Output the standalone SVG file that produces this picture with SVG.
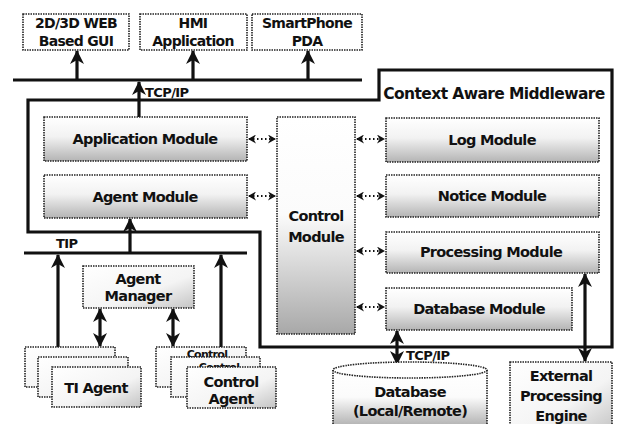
<svg xmlns="http://www.w3.org/2000/svg" width="617" height="424" viewBox="0 0 617 424">
<style>
.t{font-family:"DejaVu Sans","Liberation Sans",sans-serif;font-weight:bold;fill:#111;text-anchor:middle;letter-spacing:-0.7px}
.m{font-size:14.5px}
.s{font-size:14px}
.l{font-size:13px;text-anchor:start;letter-spacing:-0.6px}
.h{font-size:11px}
.box{stroke:#222;stroke-width:1.6;stroke-dasharray:1.5 1}
.thick{stroke:#111;stroke-width:3.2;fill:none}
.dot{stroke:#111;stroke-width:2;stroke-dasharray:1.5 2.5;fill:none}
</style>
<defs>
<linearGradient id="g" x1="0" y1="0" x2="0" y2="1">
<stop offset="0" stop-color="#ffffff"/>
<stop offset="0.45" stop-color="#f2f2f2"/>
<stop offset="1" stop-color="#b4b4b4"/>
</linearGradient>
<linearGradient id="gc" x1="0" y1="0" x2="0" y2="1">
<stop offset="0" stop-color="#ffffff"/>
<stop offset="0.45" stop-color="#fbfbfb"/>
<stop offset="1" stop-color="#a8a8a8"/>
</linearGradient>
<linearGradient id="gl" x1="0" y1="0" x2="1" y2="1">
<stop offset="0" stop-color="#ffffff"/>
<stop offset="0.6" stop-color="#f4f4f4"/>
<stop offset="1" stop-color="#c4c4c4"/>
</linearGradient>
<clipPath id="c1"><rect x="156" y="347" width="90" height="10"/></clipPath>
<clipPath id="c2"><rect x="171" y="357" width="89" height="10"/></clipPath>
<marker id="ah" markerUnits="userSpaceOnUse" markerWidth="14" markerHeight="14" viewBox="0 0 14 14" refX="13" refY="7" orient="auto-start-reverse">
<path d="M0,0 L14,7 L0,14 L4,7 Z" fill="#111"/>
</marker>
<marker id="sh" markerUnits="userSpaceOnUse" markerWidth="8" markerHeight="9" viewBox="0 0 8 9" refX="7" refY="4.5" orient="auto-start-reverse">
<path d="M0,0 L8,4.5 L0,9 L2.5,4.5 Z" fill="#111"/>
</marker>
</defs>
<rect width="617" height="424" fill="#fff"/>

<g id="connectors">
<line class="thick" x1="13" y1="80" x2="362" y2="80" stroke-width="4"/>
<line class="thick" x1="77" y1="80" x2="77" y2="51" marker-end="url(#ah)"/>
<line class="thick" x1="193" y1="80" x2="193" y2="51" marker-end="url(#ah)"/>
<line class="thick" x1="308" y1="80" x2="308" y2="51" marker-end="url(#ah)"/>
<line class="thick" x1="139" y1="117" x2="139" y2="82" marker-end="url(#ah)"/>
<text class="t l" x="145" y="97">TCP/IP</text>
<line class="thick" x1="24" y1="253" x2="247" y2="253" stroke-width="4"/>
<text class="t l" x="56" y="248">TIP</text>
<line class="thick" x1="130" y1="253" x2="130" y2="219" marker-end="url(#ah)"/>
<line class="thick" x1="58" y1="347" x2="58" y2="255" marker-end="url(#ah)"/>
<line class="thick" x1="221" y1="347" x2="221" y2="255" marker-end="url(#ah)"/>
<line class="thick" x1="100" y1="309" x2="100" y2="346" marker-start="url(#ah)" marker-end="url(#ah)"/>
<line class="thick" x1="173" y1="309" x2="173" y2="346" marker-start="url(#ah)" marker-end="url(#ah)"/>
<line class="thick" x1="397" y1="331" x2="397" y2="364" marker-start="url(#ah)" marker-end="url(#ah)"/>
<text class="t l" x="406" y="360">TCP/IP</text>
<line class="thick" x1="585" y1="274" x2="585" y2="361" marker-start="url(#ah)" marker-end="url(#ah)"/>
<line class="dot" x1="249" y1="139" x2="275" y2="139" marker-start="url(#sh)" marker-end="url(#sh)"/>
<line class="dot" x1="249" y1="196" x2="275" y2="196" marker-start="url(#sh)" marker-end="url(#sh)"/>
<line class="dot" x1="357" y1="139" x2="384" y2="139" marker-start="url(#sh)" marker-end="url(#sh)"/>
<line class="dot" x1="357" y1="196" x2="384" y2="196" marker-start="url(#sh)" marker-end="url(#sh)"/>
<line class="dot" x1="357" y1="251" x2="384" y2="251" marker-start="url(#sh)" marker-end="url(#sh)"/>
<line class="dot" x1="357" y1="307" x2="384" y2="307" marker-start="url(#sh)" marker-end="url(#sh)"/>
</g>

<g id="middleware">
<path class="thick" d="M28,100 L379,100 L379,70 L612,70 L612,347 L260,347 L260,232 L28,232 Z"/>
<text class="t" x="494" y="99" font-size="15.5" style="letter-spacing:-0.6px">Context Aware Middleware</text>
</g>

<g id="web-gui">
<rect class="box" x="23" y="14" width="106" height="36" fill="#fff"/>
<text class="t s" x="76" y="28">2D/3D WEB</text>
<text class="t s" x="76" y="46">Based GUI</text>
</g>
<g id="hmi">
<rect class="box" x="140" y="14" width="107" height="36" fill="#fff"/>
<text class="t s" x="193" y="28">HMI</text>
<text class="t s" x="193" y="46">Application</text>
</g>
<g id="smartphone">
<rect class="box" x="252" y="14" width="110" height="36" fill="#fff"/>
<text class="t s" x="307" y="28">SmartPhone</text>
<text class="t s" x="307" y="46">PDA</text>
</g>

<g id="application-module">
<rect class="box" x="44" y="117" width="203" height="44" fill="url(#g)"/>
<text class="t m" x="145" y="144">Application Module</text>
</g>
<g id="agent-module">
<rect class="box" x="44" y="175" width="203" height="43" fill="url(#g)"/>
<text class="t m" x="145" y="202">Agent Module</text>
</g>
<g id="control-module">
<rect class="box" x="277" y="117" width="78" height="217" fill="url(#gc)"/>
<text class="t m" x="316" y="221">Control</text>
<text class="t m" x="316" y="242">Module</text>
</g>
<g id="log-module">
<rect class="box" x="386" y="118" width="213" height="44" fill="url(#g)"/>
<text class="t m" x="492" y="145">Log Module</text>
</g>
<g id="notice-module">
<rect class="box" x="386" y="175" width="213" height="42" fill="url(#g)"/>
<text class="t m" x="492" y="201">Notice Module</text>
</g>
<g id="processing-module">
<rect class="box" x="386" y="232" width="213" height="41" fill="url(#g)"/>
<text class="t m" x="491" y="257">Processing Module</text>
</g>
<g id="database-module">
<rect class="box" x="386" y="288" width="186" height="42" fill="url(#g)"/>
<text class="t m" x="479" y="314">Database Module</text>
</g>

<g id="agent-manager">
<rect class="box" x="83" y="266" width="111" height="42" fill="url(#gl)"/>
<text class="t m" x="138" y="284">Agent</text>
<text class="t m" x="138" y="301">Manager</text>
</g>

<g id="ti-agent">
<rect class="box" x="25" y="347" width="90" height="40" fill="url(#gl)"/>
<rect class="box" x="38" y="357" width="90" height="40" fill="url(#gl)"/>
<rect class="box" x="52" y="367" width="89" height="40" fill="url(#gl)"/>
<text class="t m" x="96" y="393">TI Agent</text>
</g>

<g id="control-agent">
<rect class="box" x="156" y="347" width="90" height="40" fill="url(#gl)"/>
<text class="t h" x="207" y="358" clip-path="url(#c1)">Control</text>
<rect class="box" x="171" y="357" width="89" height="40" fill="url(#gl)"/>
<text class="t h" x="219" y="371" clip-path="url(#c2)">Control</text>
<rect class="box" x="187" y="367" width="89" height="41" fill="url(#gl)"/>
<text class="t m" x="231" y="387">Control</text>
<text class="t m" x="231" y="404">Agent</text>
</g>

<g id="database">
<path class="box" d="M333,370 L333,430 L487,430 L487,370" fill="url(#gc)"/>
<ellipse class="box" cx="410" cy="370" rx="77" ry="8" fill="#fff"/>
<text class="t m" x="410" y="397">Database</text>
<text class="t m" x="410" y="416">(Local/Remote)</text>
</g>

<g id="external-engine">
<rect class="box" x="510" y="362" width="102" height="70" fill="url(#gl)"/>
<text class="t m" x="561" y="381">External</text>
<text class="t m" x="561" y="401">Processing</text>
<text class="t m" x="561" y="421">Engine</text>
</g>
</svg>
